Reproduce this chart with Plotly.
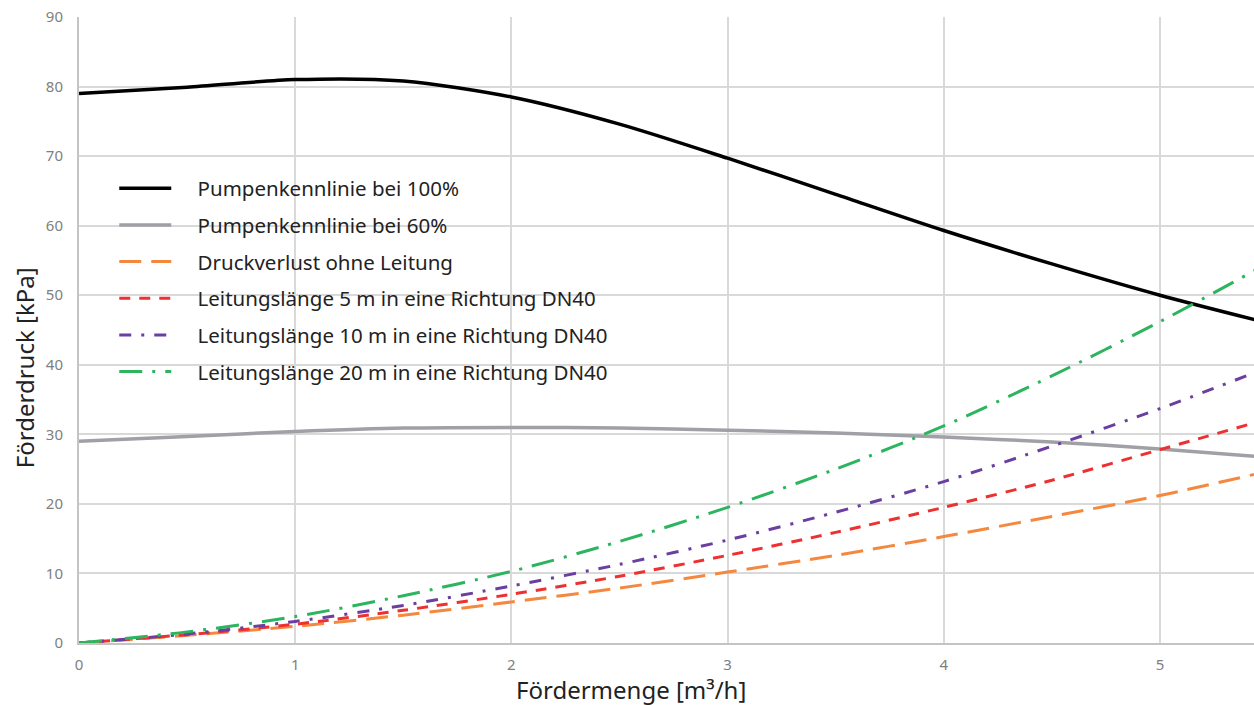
import plotly.graph_objects as go

# Fördermenge in m³/h
flow = [0, 0.5, 1, 1.5, 2, 2.5, 3, 3.5, 4, 4.5, 5, 5.5]

# Förderdruck in kPa
pump_100 = [79.0, 79.9, 81.0, 80.8, 78.5, 74.6, 69.7, 64.5, 59.3, 54.5, 50.0, 46.0]
pump_60 = [29.0, 29.7, 30.4, 30.9, 31.0, 30.9, 30.6, 30.2, 29.6, 28.9, 27.9, 26.7]
loss_none = [0.0, 1.1, 2.4, 4.0, 5.9, 7.9, 10.2, 12.6, 15.3, 18.2, 21.2, 24.7]
loss_5m = [0.0, 1.2, 2.7, 4.7, 7.0, 9.6, 12.6, 15.9, 19.5, 23.4, 27.8, 32.2]
loss_10m = [0.0, 1.3, 3.1, 5.4, 8.2, 11.3, 14.8, 18.8, 23.2, 28.3, 33.7, 39.6]
loss_20m = [0.0, 1.6, 3.8, 6.8, 10.3, 14.6, 19.5, 25.0, 31.2, 38.4, 46.2, 54.6]

names = [
    "Pumpenkennlinie bei 100%",
    "Pumpenkennlinie bei 60%",
    "Druckverlust ohne Leitung",
    "Leitungslänge 5 m in eine Richtung DN40",
    "Leitungslänge 10 m in eine Richtung DN40",
    "Leitungslänge 20 m in eine Richtung DN40",
]
series = [pump_100, pump_60, loss_none, loss_5m, loss_10m, loss_20m]
styles = [
    dict(color="#000000", width=3.5, dash="solid"),
    dict(color="#a0a1a6", width=3.5, dash="solid"),
    dict(color="#f5883f", width=3, dash="22px,10px"),
    dict(color="#ee3030", width=3, dash="11px,9px"),
    dict(color="#6a3fa0", width=3, dash="12px,10px,3px,10px"),
    dict(color="#2db45f", width=3, dash="23px,10px,3px,10px"),
]

# padding between legend swatch and its label
pad = "\u00a0" * 4

fig = go.Figure()
for i, (name, ys, st) in enumerate(zip(names, series, styles)):
    fig.add_trace(go.Scatter(
        x=flow, y=ys, name=pad + name, mode="lines",
        line=dict(shape="spline", smoothing=0.8, **st),
        legendgroup=f"g{i}",
    ))

font_family = "Noto Sans, Open Sans, sans-serif"

fig.update_layout(
    width=1254, height=705,
    margin=dict(l=79, r=0, t=17, b=62),
    paper_bgcolor="white", plot_bgcolor="white",
    font=dict(family=font_family, color="#222222"),
    showlegend=True,
    legend=dict(
        x=0.03, y=0.758, xanchor="left", yanchor="top",
        bgcolor="rgba(0,0,0,0)",
        font=dict(size=20.5, color="#222222", family=font_family),
        itemwidth=52, tracegroupgap=7,
    ),
    xaxis=dict(
        range=[0, 5.435], tickvals=[0, 1, 2, 3, 4, 5],
        showgrid=True, gridcolor="#d9d9d9", gridwidth=1.5,
        zeroline=False, showline=True, linecolor="#c4c4c4", linewidth=2,
        tickfont=dict(size=15, color="#808080"), ticks="",
        ticklabelstandoff=7,
    ),
    yaxis=dict(
        range=[0, 90], dtick=10,
        showgrid=True, gridcolor="#d9d9d9", gridwidth=1.5,
        zeroline=False, showline=True, linecolor="#c4c4c4", linewidth=2,
        tickfont=dict(size=15, color="#808080"), ticks="",
        ticklabelstandoff=11,
    ),
    annotations=[
        dict(text="Fördermenge [m³/h]", xref="paper", yref="paper",
             x=0.4698, y=-0.075, xanchor="center", yanchor="middle",
             showarrow=False, font=dict(size=24, color="#222222")),
        dict(text="Förderdruck [kPa]", xref="paper", yref="paper",
             x=-0.0468, y=0.439, xanchor="center", yanchor="middle",
             textangle=-90, showarrow=False, font=dict(size=24, color="#222222")),
    ],
)

fig.write_html("out.html")
